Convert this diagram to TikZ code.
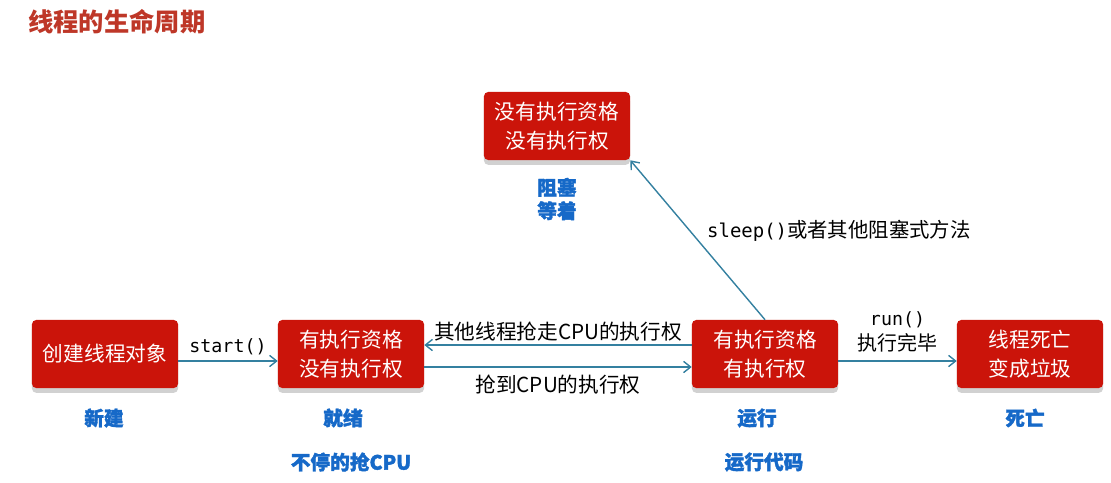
\documentclass[tikz,border=0pt]{standalone}
\usepackage{fontspec}
\setmainfont{Noto Sans CJK SC}
\newfontfamily\cjk{Noto Sans CJK SC}
\newfontfamily\cjkheavy[BoldFeatures={FakeBold=1.6}]{Noto Sans CJK SC}
\setmonofont{DejaVu Sans Mono}
\definecolor{staterot}{RGB}{203, 20, 10}
\definecolor{titelrot}{RGB}{190, 55, 40}
\definecolor{tagblau}{RGB}{22, 105, 200}
\definecolor{pfeil}{RGB}{52, 128, 160}
\usetikzlibrary{positioning, arrows.meta, shadows}

\begin{document}
\begin{tikzpicture}[x=0.025cm, y=-0.025cm, every node/.style={font=\cjk},
    state/.style={fill=staterot, text=white, rounded corners=3pt, minimum width=3.65cm,
      minimum height=1.7cm, align=center, font=\cjk\fontsize{14.7}{21}\selectfont,
      drop shadow={shadow xshift=0pt, shadow yshift=-0.12cm, fill=black!18, opacity=1}},
    tag/.style={text=tagblau, font=\cjkheavy\bfseries\fontsize{14}{16.5}\selectfont},
    trans/.style={draw=pfeil, line width=1pt, -{Straight Barb[length=5pt,width=8pt]}},
    lbl/.style={font=\cjk\fontsize{14.7}{17}\selectfont, inner sep=2pt},
    code/.style={font=\ttfamily\fontsize{13}{17}\selectfont, inner sep=4pt}]
  \useasboundingbox (0,0) rectangle (1111,482);
  % title
  \node[anchor=west, text=titelrot, font=\cjk\bfseries\fontsize{18}{22}\selectfont, inner sep=0pt] (titel) at (28,22) {线程的生命周期};
  % states
  \node[state] (neu) at (105,354) {创建线程对象};
  \node[state] (bereit) at (351,354) {有执行资格\\没有执行权};
  \node[state] (laeuft) at (765,354) {有执行资格\\有执行权};
  \node[state] (tot) at (1030,354) {线程死亡\\变成垃圾};
  \node[state] (blockiert) at (557,126) {没有执行资格\\没有执行权};
  % blue tags
  \node[tag] (neutag) at (104,418) {新建};
  \node[tag] (bereittag) at (343,418) {就绪};
  \node[tag] (bereittag2) at (351,462) {不停的抢CPU};
  \node[tag] (lauftag) at (757,418) {运行};
  \node[tag] (lauftag2) at (764,462) {运行代码};
  \node[tag] (tottag) at (1025,418) {死亡};
  \node[tag, align=center] (blocktag) at (557,199) {阻塞\\等着};
  % transitions
  \draw[trans] ([yshift=-0.175cm]neu.east) -- node[code, above] {start()} ([yshift=-0.175cm]bereit.west);
  \draw[trans] ([yshift=-0.325cm]bereit.east) -- node[lbl, below, inner sep=5pt] {抢到CPU的执行权} ([yshift=-0.325cm]laeuft.west);
  \draw[trans] ([yshift=0.225cm]laeuft.west) -- node[lbl, above] {其他线程抢走CPU的执行权} ([yshift=0.225cm]bereit.east);
  \draw[trans] ([yshift=-0.175cm]laeuft.east) -- node[above, align=center, inner sep=6pt] {{\ttfamily\fontsize{13}{17}\selectfont run()}\\[3pt]{\fontsize{14.2}{17}\selectfont 执行完毕}} ([yshift=-0.175cm]tot.west);
  \draw[trans] (laeuft.north) -- node[pos=0.56, right, inner sep=12pt] {{\ttfamily\fontsize{13.5}{17}\selectfont sleep()}{\fontsize{14.5}{17}\selectfont 或者其他阻塞式方法}} (blockiert.south east);
\end{tikzpicture}
\end{document}
